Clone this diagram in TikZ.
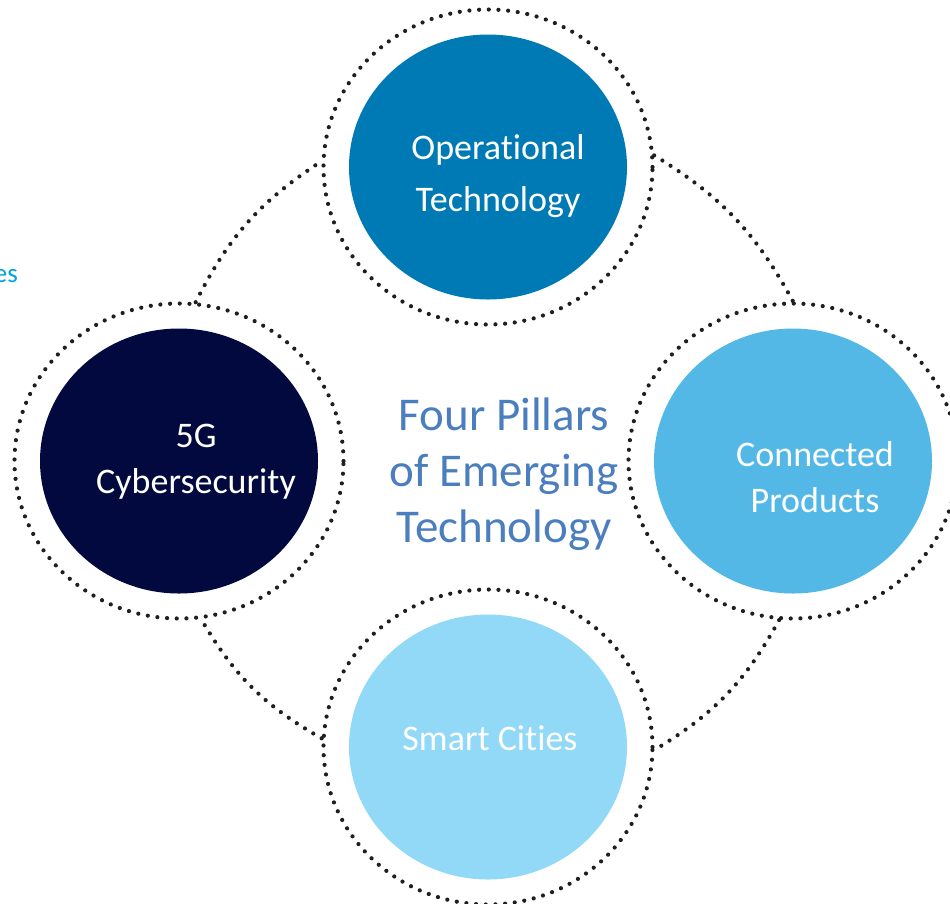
\documentclass[tikz,border=0pt]{standalone}
\usepackage{fontspec}
\setmainfont{Carlito}[Ligatures=NoCommon]
\usetikzlibrary{shapes.geometric}

\newlength{\du}
\setlength{\du}{1pt}

\definecolor{otblue}{RGB}{0,122,180}
\definecolor{fgnavy}{RGB}{2,9,62}
\definecolor{cpblue}{RGB}{83,184,230}
\definecolor{scblue}{RGB}{146,217,247}
\definecolor{titleblue}{RGB}{74,126,190}
\definecolor{escyan}{RGB}{0,163,228}
\definecolor{dotgray}{RGB}{30,30,30}

\tikzset{
	dotline/.style={draw=dotgray, line width=4.2\du, line cap=round, dash pattern=on 0pt off 9.7\du},
	ring/.style={dotline, ellipse, fill=white, inner sep=0pt, minimum width=329\du, minimum height=315\du},
	pillar/.style={ellipse, inner sep=0pt, minimum width=278\du, minimum height=265\du},
	pillartext/.style={text=white, align=center, font=\fontsize{36}{46}\selectfont},
	titletext/.style={text=titleblue, align=center, font=\fontsize{47}{56}\selectfont},
	link/.style={dotline},
}

\begin{document}
\begin{tikzpicture}
	\useasboundingbox (0,0) rectangle (950\du,-903\du);
	% dotted rings
	\node[ring] (otring) at (488\du,-167\du) {};
	\node[ring] (fgring) at (179\du,-461\du) {};
	\node[ring] (cpring) at (793\du,-461\du) {};
	\node[ring] (scring) at (488\du,-747\du) {};
	% pillars
	\node[pillar, fill=otblue] (ot) at (otring.center) {};
	\node[pillar, fill=fgnavy] (fg) at (fgring.center) {};
	\node[pillar, fill=cpblue] (cp) at (cpring.center) {};
	\node[pillar, fill=scblue] (sc) at (scring.center) {};
	% dotted links round the ring
	\draw[link] (fgring.84) to[bend left=15] (otring.178);
	\draw[link] (otring.4) to[bend left=15] (cpring.90);
	\draw[link] (cpring.265) to[bend left=15] (scring.359);
	\draw[link] (scring.177) to[bend left=15] (fgring.278);
	% labels
	\node[pillartext, font=\fontsize{36}{52}\selectfont] (ottext) at (498\du,-176\du) {Operational\\Technology};
	\node[pillartext] (fgtext) at (196\du,-462\du) {5G\\Cybersecurity};
	\node[pillartext] (cptext) at (815\du,-477\du) {Connected\\Products};
	\node[pillartext] (sctext) at (490\du,-738\du) {Smart Cities};
	\node[titletext] (title) at (504\du,-474\du) {Four Pillars\\of Emerging\\Technology};
	\node[anchor=base east, text=escyan, font=\fontsize{27}{32}\selectfont, inner sep=0pt] (es) at (18\du,-282\du) {es};
\end{tikzpicture}
\end{document}
